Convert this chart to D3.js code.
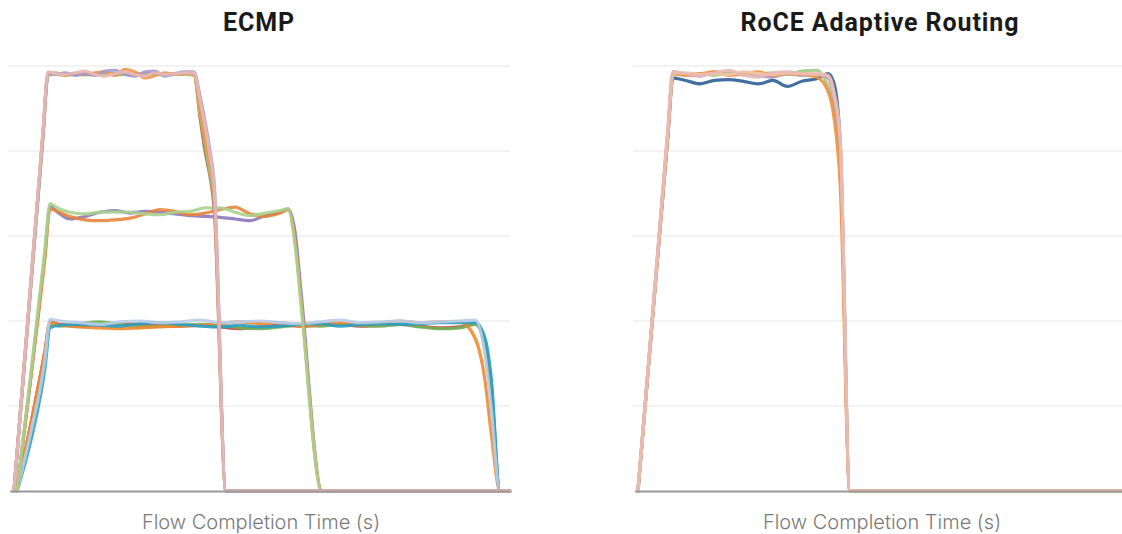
<!DOCTYPE html>
<html><head><meta charset="utf-8">
<script src="https://cdn.jsdelivr.net/npm/d3@7"></script>
<style>html,body{margin:0;padding:0;background:#fff;}svg{display:block;}</style>
</head><body>
<svg id="chart" width="1122" height="534"></svg>
<script>
// ---------- data ----------
const titles = ["ECMP", "RoCE Adaptive Routing"];
const xLabel = "Flow Completion Time (s)";
const gridValues = [20, 40, 60, 80, 100];

// ECMP group A (full-rate flows)
const timesA = [0.8, 6.6, 7.6, 9, 11, 13, 15, 17, 19, 21, 23, 25, 27, 29, 31, 33, 35, 36.8, 38, 39, 40, 40.8, 43.2, 100];
const ecmpA_brown  = [0, 84, 98.0, 98.2, 98.0, 98.2, 98.0, 98.2, 98.0, 98.2, 98.0, 98.2, 98.0, 98.2, 98.0, 98.2, 98.2, 98.0, 88, 80, 74, 67, 0, 0];
const ecmpA_green  = [0, 83, 97.8, 98.0, 97.8, 98.0, 97.9, 98.0, 98.1, 97.9, 98.0, 98.1, 97.9, 98.0, 97.9, 98.0, 98.0, 97.8, 89, 82, 75, 69, 0, 0];
const ecmpA_orange = [0, 84, 98.2, 98.4, 97.8, 98.2, 98.0, 98.4, 98.6, 97.8, 99.2, 98.6, 97.2, 97.8, 98.4, 98.0, 98.2, 98.2, 90, 83, 77, 70, 0, 0];
const ecmpA_purple = [0, 84, 98.4, 98.0, 98.4, 97.8, 98.2, 97.8, 98.8, 99.0, 98.0, 97.6, 98.6, 98.8, 97.6, 98.2, 98.6, 98.6, 93, 87, 80, 73, 0, 0];
const ecmpA_pink   = [0, 85, 98.6, 98.2, 98.0, 98.4, 98.8, 98.0, 97.6, 98.2, 98.6, 98.0, 97.6, 98.4, 98.0, 98.2, 98.4, 98.4, 92, 86, 79, 72, 0, 0];

// ECMP group B (two flows share a link)
const timesB = [1.4, 4.2, 7, 8, 9.5, 12, 15, 18, 21, 24, 27, 30, 33, 36, 39, 42, 45, 48, 51, 54, 55.6, 57, 58.2, 62.4, 100];
const ecmpB_purple = [0, 27, 56, 67.0, 65.6, 64.0, 64.6, 65.6, 66.0, 65.4, 65.8, 65.6, 65.2, 64.8, 64.6, 64.4, 64.0, 63.6, 64.8, 65.6, 66.4, 61, 47, 0, 0];
const ecmpB_orange = [0, 27, 55, 66.4, 65.8, 64.6, 63.8, 63.6, 63.8, 64.2, 65.2, 66.2, 65.8, 65.0, 65.4, 66.2, 66.8, 65.2, 64.6, 65.4, 66.2, 59, 45, 0, 0];
const ecmpB_green  = [0, 28, 57, 67.6, 66.6, 65.6, 65.2, 65.6, 65.6, 65.6, 65.2, 65.0, 65.6, 65.8, 66.6, 66.6, 65.6, 64.8, 65.4, 66.0, 66.4, 58, 44, 0, 0];

// ECMP group C (three flows share a link)
const timesC = [1.4, 4.2, 7, 8, 10, 14, 18, 22, 26, 30, 34, 38, 42, 46, 50, 54, 58, 62, 66, 70, 74, 78, 82, 86, 90, 93, 95, 96.2, 98, 100];
const ecmpC_red       = [0, 16, 33, 39.8, 39.2, 38.8, 39.0, 39.4, 39.2, 39.0, 38.8, 39.0, 38.6, 38.2, 38.6, 39.0, 38.8, 39.0, 39.2, 38.8, 39.0, 39.2, 38.8, 38.4, 38.6, 39.4, 34, 24, 0, 0];
const ecmpC_green     = [0, 15, 32, 39.2, 38.8, 39.4, 39.8, 39.2, 38.6, 38.8, 39.0, 39.2, 39.0, 38.4, 38.2, 38.6, 39.0, 38.8, 39.2, 39.0, 38.8, 39.2, 38.6, 38.2, 38.4, 39.2, 35, 26, 0, 0];
const ecmpC_orange    = [0, 16, 33, 39.6, 39.0, 38.6, 38.4, 38.2, 38.4, 38.6, 38.8, 39.0, 39.4, 39.8, 39.4, 39.6, 38.8, 39.2, 39.6, 39.2, 39.6, 40.0, 39.6, 39.8, 39.8, 36, 26, 14, 0, 0];
const ecmpC_teal      = [0, 12, 29, 38.4, 39.0, 39.2, 39.0, 38.8, 39.4, 39.6, 39.2, 38.8, 38.6, 39.0, 38.6, 38.8, 39.2, 39.4, 38.8, 39.2, 39.4, 39.2, 39.4, 39.6, 39.6, 39.6, 36, 27, 0, 0];
const ecmpC_lightblue = [0, 14, 31, 40.4, 40.0, 39.6, 39.2, 39.8, 40.0, 39.6, 39.8, 40.2, 39.6, 39.8, 40.0, 39.6, 39.4, 39.8, 40.2, 39.6, 39.8, 40.0, 39.6, 39.8, 40.0, 40.2, 32, 20, 0, 0];

// RoCE Adaptive Routing (all flows at full rate)
const timesR = [0.2, 6.4, 7.4, 10, 13, 16, 19, 22, 25, 28, 31, 34, 37, 39.4, 40.6, 41.9, 43.9, 100];
const ar_darkblue = [0, 84, 97.2, 96.6, 95.8, 96.6, 96.8, 96.4, 95.8, 96.6, 95.2, 96.4, 97.0, 98.2, 96, 82, 0, 0];
const ar_green    = [0, 85, 98.2, 98.0, 98.2, 97.8, 98.4, 98.0, 98.2, 98.4, 98.0, 98.8, 99.0, 95.0, 90, 78, 0, 0];
const ar_purple   = [0, 85, 98.6, 98.0, 97.6, 98.6, 98.0, 98.4, 97.8, 97.4, 98.2, 97.8, 98.0, 97.2, 92, 80, 0, 0];
const ar_orange   = [0, 84, 98.2, 97.8, 98.2, 98.6, 97.8, 98.2, 98.6, 97.8, 98.2, 98.0, 97.4, 94, 88, 72, 0, 0];
const ar_peach    = [0, 85, 98.4, 98.4, 98.0, 98.2, 98.0, 98.6, 98.2, 98.0, 98.4, 98.2, 98.2, 97.8, 94, 83, 0, 0];
const ar_pink     = [0, 86, 98.6, 98.2, 97.8, 98.4, 99.0, 97.8, 97.4, 98.4, 98.6, 98.2, 98.0, 97.6, 93, 82, 0, 0];

// ---------- series lists (draw order) ----------
const ecmpSeries = [
  {t: timesC, v: ecmpC_red, c: "#c8463f"},
  {t: timesC, v: ecmpC_green, c: "#6fb356"},
  {t: timesC, v: ecmpC_orange, c: "#f08a2f"},
  {t: timesC, v: ecmpC_teal, c: "#2ba0c3"},
  {t: timesC, v: ecmpC_lightblue, c: "#b9cde8"},
  {t: timesB, v: ecmpB_purple, c: "#8c78bd"},
  {t: timesB, v: ecmpB_orange, c: "#e9843a"},
  {t: timesB, v: ecmpB_green, c: "#a8d38e"},
  {t: timesA, v: ecmpA_brown, c: "#a8654a"},
  {t: timesA, v: ecmpA_green, c: "#9ccb84"},
  {t: timesA, v: ecmpA_orange, c: "#f19446"},
  {t: timesA, v: ecmpA_purple, c: "#a597cf"},
  {t: timesA, v: ecmpA_pink, c: "#e9b9b5"}
];
const arSeries = [
  {t: timesR, v: ar_darkblue, c: "#2f5f97"},
  {t: timesR, v: ar_green, c: "#9ccb84"},
  {t: timesR, v: ar_purple, c: "#a597cf"},
  {t: timesR, v: ar_orange, c: "#f0913a"},
  {t: timesR, v: ar_peach, c: "#f5c6a6"},
  {t: timesR, v: ar_pink, c: "#e9b9b5"}
];

// ---------- drawing ----------
const svg = d3.select("#chart");
const defs = svg.append("defs");
defs.append("filter").attr("id", "soft")
  .append("feGaussianBlur").attr("stdDeviation", 0.65);

const y = d3.scaleLinear().domain([0, 100]).range([491, 66]);

const panels = [
  {title: titles[0], series: ecmpSeries, x: d3.scaleLinear().domain([0, 100]).range([10, 510]), gx0: 8, gx1: 510, bx0: 10, bx1: 510, cx: 259},
  {title: titles[1], series: arSeries, x: d3.scaleLinear().domain([0, 100]).range([637, 1122]), gx0: 633, gx1: 1122, bx0: 635, bx1: 1122, cx: 880}
];

panels.forEach(p => {
  const g = svg.append("g");
  g.selectAll("line.grid").data(gridValues).join("line")
    .attr("class", "grid")
    .attr("x1", p.gx0).attr("x2", p.gx1)
    .attr("y1", d => y(d)).attr("y2", d => y(d))
    .attr("stroke", "#e6e6e6").attr("stroke-width", 1);

  const line = d3.line()
    .x(d => p.x(d[0])).y(d => y(d[1]))
    .curve(d3.curveMonotoneX);

  const lg = g.append("g").attr("filter", "url(#soft)");
  lg.selectAll("path").data(p.series).join("path")
    .attr("d", s => line(s.t.map((t, i) => [t, s.v[i]])))
    .attr("fill", "none")
    .attr("stroke", s => s.c)
    .attr("stroke-width", 3.2)
    .attr("stroke-opacity", 0.9)
    .attr("stroke-linejoin", "round")
    .attr("stroke-linecap", "round");

  g.append("line")
    .attr("x1", p.bx0).attr("x2", p.bx1)
    .attr("y1", y(0) + 0.5).attr("y2", y(0) + 0.5)
    .attr("stroke", "#9a9a9a").attr("stroke-width", 2);

  g.append("text")
    .attr("x", p.cx).attr("y", 31)
    .attr("text-anchor", "middle")
    .attr("font-family", "Roboto, 'Liberation Sans', sans-serif")
    .attr("font-weight", "bold")
    .attr("font-size", 25)
    .attr("letter-spacing", 0.9)
    .attr("fill", "#1a1a1a")
    .text(p.title);

  g.append("text")
    .attr("x", p.cx + 2).attr("y", 529)
    .attr("text-anchor", "middle")
    .attr("font-family", "Inter, 'Noto Sans', sans-serif")
    .attr("font-weight", 300)
    .attr("font-size", 20)
    .attr("fill", "#7a7a7a")
    .text(xLabel);
});
</script>
</body></html>
